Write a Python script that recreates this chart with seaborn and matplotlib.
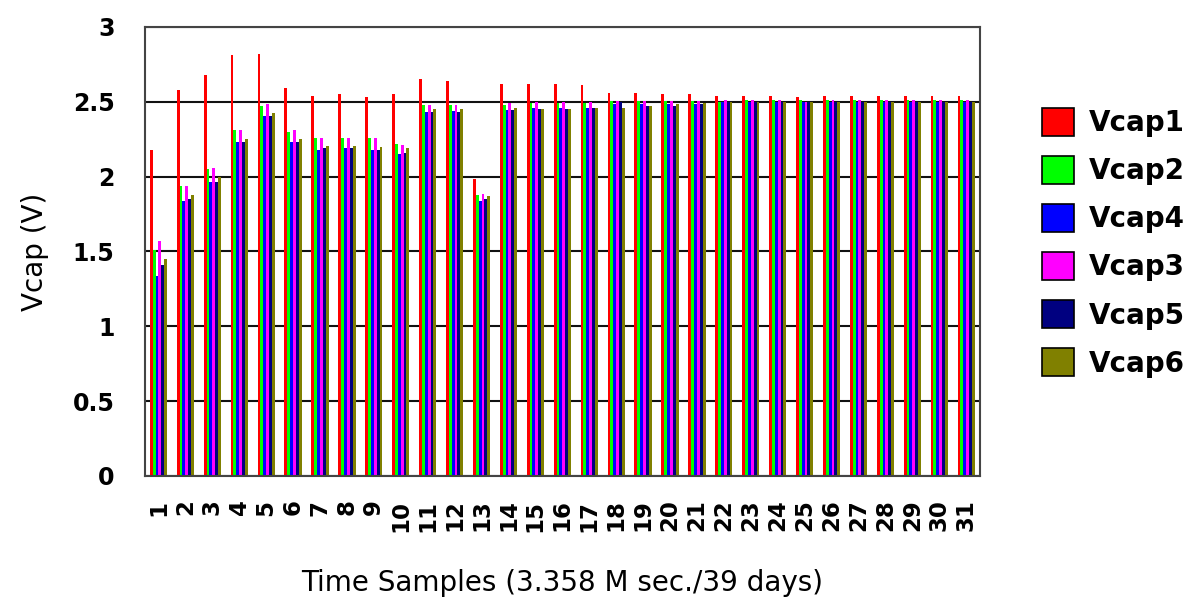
import matplotlib
matplotlib.use("Agg")
import matplotlib.pyplot as plt
import seaborn as sns
import pandas as pd

# Sample index labels
samples = [str(i) for i in range(1, 32)]

# Capacitor voltages per time sample (V)
vcap1 = [2.18, 2.58, 2.68, 2.81, 2.82, 2.59, 2.54, 2.55, 2.53, 2.55, 2.65, 2.64, 1.985,
         2.62, 2.62, 2.62, 2.61, 2.56, 2.56, 2.55, 2.55, 2.54, 2.54, 2.54, 2.53, 2.54,
         2.54, 2.54, 2.54, 2.54, 2.54]
vcap2 = [1.51, 1.935, 2.05, 2.31, 2.475, 2.30, 2.257, 2.257, 2.257, 2.22, 2.48, 2.48, 1.878,
         2.48, 2.495, 2.495, 2.495, 2.505, 2.505, 2.505, 2.505, 2.50, 2.51, 2.51, 2.51, 2.51,
         2.51, 2.51, 2.51, 2.51, 2.51]
vcap4 = [1.335, 1.84, 1.965, 2.23, 2.405, 2.23, 2.18, 2.19, 2.18, 2.15, 2.435, 2.44, 1.84,
         2.445, 2.46, 2.46, 2.46, 2.485, 2.485, 2.485, 2.485, 2.50, 2.50, 2.50, 2.50, 2.50,
         2.50, 2.50, 2.50, 2.50, 2.50]
vcap3 = [1.57, 1.935, 2.06, 2.31, 2.485, 2.31, 2.257, 2.257, 2.257, 2.21, 2.48, 2.48, 1.885,
         2.495, 2.50, 2.50, 2.50, 2.505, 2.505, 2.505, 2.505, 2.51, 2.51, 2.51, 2.50, 2.51,
         2.51, 2.51, 2.51, 2.51, 2.51]
vcap5 = [1.41, 1.85, 1.965, 2.23, 2.405, 2.23, 2.19, 2.19, 2.18, 2.16, 2.435, 2.435, 1.85,
         2.445, 2.455, 2.455, 2.46, 2.50, 2.475, 2.475, 2.485, 2.50, 2.50, 2.50, 2.50, 2.50,
         2.50, 2.50, 2.50, 2.50, 2.50]
vcap6 = [1.45, 1.88, 2.00, 2.25, 2.425, 2.25, 2.207, 2.207, 2.20, 2.19, 2.455, 2.455, 1.87,
         2.46, 2.455, 2.455, 2.46, 2.46, 2.475, 2.485, 2.49, 2.50, 2.50, 2.50, 2.50, 2.50,
         2.50, 2.50, 2.50, 2.50, 2.50]

series_names = ["Vcap1", "Vcap2", "Vcap4", "Vcap3", "Vcap5", "Vcap6"]
series_values = [vcap1, vcap2, vcap4, vcap3, vcap5, vcap6]
series_colors = ["#ff0000", "#00ff00", "#0000ff", "#ff00ff", "#000080", "#808000"]

y_ticks = [0, 0.5, 1, 1.5, 2, 2.5, 3]
y_tick_labels = ["0", "0.5", "1", "1.5", "2", "2.5", "3"]

rows = []
for name, vals in zip(series_names, series_values):
    for s, v in zip(samples, vals):
        rows.append({"sample": s, "series": name, "value": v})
df = pd.DataFrame(rows)

sns.set_style("white")
plt.rcParams["font.family"] = ["DejaVu Sans"]
plt.rcParams["text.color"] = "black"
plt.rcParams["axes.labelcolor"] = "black"
plt.rcParams["xtick.color"] = "black"
plt.rcParams["ytick.color"] = "black"

fig = plt.figure(figsize=(12.02, 6.0), dpi=100)
ax = fig.add_axes([0.1206, 0.2067, 0.815 - 0.1206, 0.955 - 0.2067])

sns.barplot(data=df, x="sample", y="value", hue="series", order=samples,
            hue_order=series_names, palette=series_colors, saturation=1,
            errorbar=None, width=0.64, dodge=True, linewidth=0, ax=ax)

ax.set_xlim(-0.5, len(samples) - 0.5)
ax.set_ylim(0, 3)
ax.set_yticks(y_ticks)
ax.set_yticklabels(y_tick_labels, fontsize=17, fontweight="bold")
ax.set_xticks(range(len(samples)))
ax.set_xticklabels(samples, rotation=90, fontsize=16.5, fontweight="bold")
ax.tick_params(axis="y", length=0, pad=22)
ax.tick_params(axis="x", length=0, pad=17)

ax.yaxis.grid(True, color="#111111", linewidth=1.5)
ax.xaxis.grid(False)
ax.set_axisbelow(True)

for side in ["left", "right", "top", "bottom"]:
    ax.spines[side].set_visible(True)
    ax.spines[side].set_color("#444444")
    ax.spines[side].set_linewidth(1.5)

ax.set_ylabel("Vcap (V)", fontsize=20, labelpad=17)
ax.set_xlabel("Time Samples (3.358 M sec./39 days)", fontsize=20, labelpad=27)

leg = ax.legend(loc="upper left", bbox_to_anchor=(0.867, 0.82),
                bbox_transform=fig.transFigure, frameon=False,
                borderpad=0, borderaxespad=0, handlelength=1.15, handleheight=1.15,
                handletextpad=0.55, labelspacing=0.68,
                prop={"size": 20, "weight": "bold"})
for h in leg.legend_handles:
    h.set_edgecolor("black")
    h.set_linewidth(1.2)

fig.savefig("out.png", dpi=100, facecolor="white")
